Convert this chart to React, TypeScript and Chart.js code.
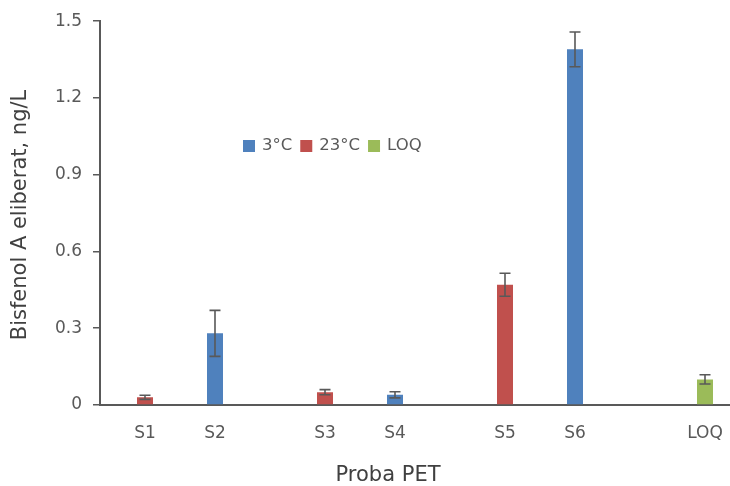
import React, { useEffect, useRef } from "react";
import { Chart, registerables } from "chart.js";

Chart.register(...registerables);

// Samples and series
const categories = ["S1", "S2", "S3", "S4", "S5", "S6", "LOQ"];
const seriesNames = ["3°C", "23°C", "LOQ"];
const seriesColors = ["#4F81BD", "#C0504D", "#9BBB59"];

// Released bisphenol A, ng/L (null = not measured for that series)
const cold3C = [null, 0.28, null, 0.04, null, 1.39, null];
const warm23C = [0.03, null, 0.05, null, 0.47, null, null];
const loqValues = [null, null, null, null, null, null, 0.1];

// Standard deviations for the error bars
const cold3CErr = [null, 0.09, null, 0.012, null, 0.068, null];
const warm23CErr = [0.008, null, 0.01, null, 0.045, null, null];
const loqErr = [null, null, null, null, null, null, 0.018];

const yTicks = [0, 0.3, 0.6, 0.9, 1.2, 1.5];

const xTitle = "Proba PET";
const yTitle = "Bisfenol A eliberat, ng/L";

const FONT = "'DejaVu Sans', sans-serif";
const TEXT = "#595959";
const TITLE = "#404040";
const AXIS = "#595959";

const seriesValues = [cold3C, warm23C, loqValues];
const seriesErrors = [cold3CErr, warm23CErr, loqErr];

// Error bars drawn from each bar's value ± its deviation
const errorBarPlugin = {
  id: "errorBars",
  afterDatasetsDraw(chart: any) {
    const { ctx } = chart;
    const y = chart.scales.y;
    ctx.save();
    ctx.strokeStyle = "#595959";
    ctx.lineWidth = 1.6;
    chart.data.datasets.forEach((ds: any, di: number) => {
      const meta = chart.getDatasetMeta(di);
      const errs = seriesErrors[di];
      meta.data.forEach((bar: any, i: number) => {
        const v = ds.data[i];
        const e = errs[i];
        if (v == null || e == null) return;
        const x = bar.x;
        const yTop = y.getPixelForValue(v + e);
        const yBot = y.getPixelForValue(Math.max(0, v - e));
        ctx.beginPath();
        ctx.moveTo(x, yTop);
        ctx.lineTo(x, yBot);
        ctx.moveTo(x - 5.5, yTop);
        ctx.lineTo(x + 5.5, yTop);
        ctx.moveTo(x - 5.5, yBot);
        ctx.lineTo(x + 5.5, yBot);
        ctx.stroke();
      });
    });
    ctx.restore();
  },
};

// Sample names under each sample's bar, plus the two axis titles
const axisTextPlugin = {
  id: "axisText",
  afterDraw(chart: any) {
    const { ctx } = chart;
    const base = chart.scales.y.getPixelForValue(0);
    ctx.save();
    ctx.fillStyle = TEXT;
    ctx.font = `17px ${FONT}`;
    ctx.textAlign = "center";
    ctx.textBaseline = "middle";
    categories.forEach((name, i) => {
      for (let di = 0; di < chart.data.datasets.length; di++) {
        const v = chart.data.datasets[di].data[i];
        if (v != null) {
          const bar = chart.getDatasetMeta(di).data[i];
          ctx.fillText(name, bar.x, base + 29);
          break;
        }
      }
    });

    ctx.fillStyle = TITLE;
    ctx.font = `21px ${FONT}`;
    ctx.fillText(xTitle, 388, 476);

    ctx.translate(21, 215);
    ctx.rotate(-Math.PI / 2);
    ctx.font = `21px ${FONT}`;
    ctx.fillText(yTitle, 0, 0);
    ctx.restore();
  },
};

// Legend placed inside the plot area
const innerLegendPlugin = {
  id: "innerLegend",
  afterDraw(chart: any) {
    const { ctx } = chart;
    ctx.save();
    ctx.font = `16.5px ${FONT}`;
    ctx.textBaseline = "middle";
    ctx.textAlign = "left";
    let x = 243;
    const y = 146;
    chart.data.datasets.forEach((ds: any) => {
      ctx.fillStyle = ds.backgroundColor;
      ctx.fillRect(x, y - 6, 12, 12);
      x += 19;
      ctx.fillStyle = TEXT;
      ctx.fillText(ds.label, x, y);
      x += ctx.measureText(ds.label).width + 8;
    });
    ctx.restore();
  },
};

export default function App() {
  const canvasRef = useRef<HTMLCanvasElement | null>(null);

  useEffect(() => {
    if (!canvasRef.current) return;
    const chart = new Chart(canvasRef.current, {
      type: "bar",
      data: {
        labels: categories,
        datasets: seriesNames.map((name, i) => ({
          label: name,
          data: seriesValues[i],
          backgroundColor: seriesColors[i],
          borderWidth: 0,
          categoryPercentage: 0.6667,
          barPercentage: 0.8,
        })),
      },
      options: {
        animation: false,
        responsive: false,
        maintainAspectRatio: false,
        layout: { padding: { top: 20, right: 0, left: 0, bottom: 0 } },
        plugins: {
          legend: { display: false },
          tooltip: { enabled: false },
        },
        scales: {
          x: {
            type: "category",
            offset: true,
            grid: { display: false },
            border: { display: true, color: AXIS, width: 2 },
            ticks: { display: false },
            afterFit(scale: any) {
              scale.height = 81;
            },
          },
          y: {
            min: 0,
            max: 1.5,
            afterBuildTicks(scale: any) {
              scale.ticks = yTicks.map((v) => ({ value: v }));
            },
            ticks: {
              color: TEXT,
              font: { family: FONT, size: 17 },
              padding: 11,
              callback: (v: any) => String(v),
            },
            grid: {
              display: true,
              drawOnChartArea: false,
              drawTicks: true,
              tickLength: 7,
              color: AXIS,
              lineWidth: 1.5,
            },
            border: { display: true, color: AXIS, width: 2 },
            afterFit(scale: any) {
              scale.width = 100;
            },
          },
        },
      },
      plugins: [errorBarPlugin, axisTextPlugin, innerLegendPlugin],
    });
    return () => chart.destroy();
  }, []);

  return (
    <div style={{ position: "fixed", left: 0, top: 0, width: 730, height: 486, background: "#fff" }}>
      <canvas ref={canvasRef} width={730} height={486} style={{ display: "block" }} />
    </div>
  );
}
